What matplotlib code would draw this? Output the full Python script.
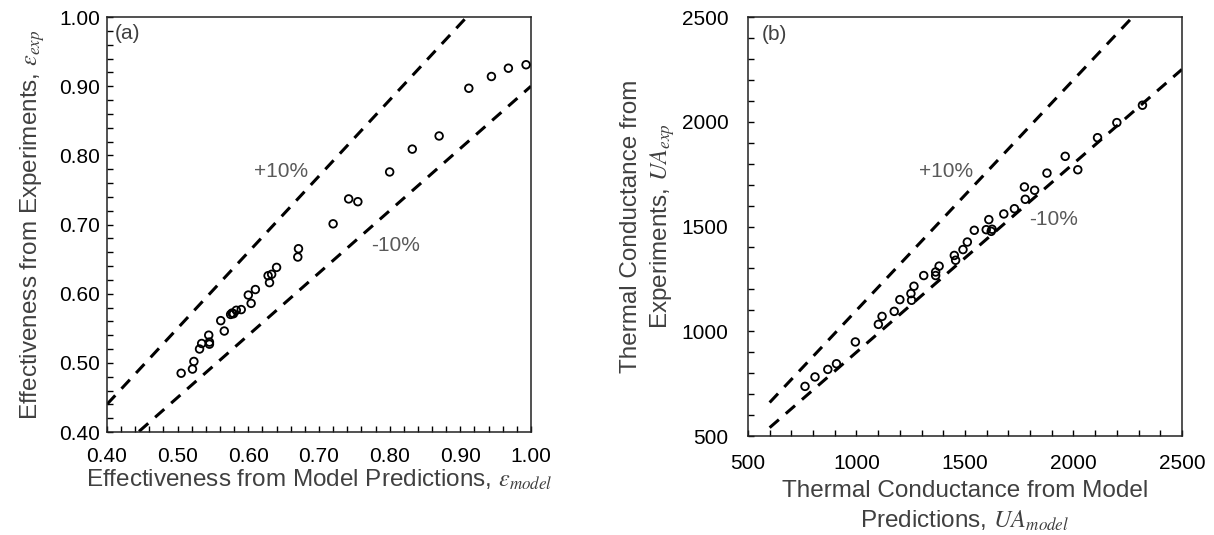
"Model vs experiment parity plots: effectiveness (a) and thermal conductance (b)"

import matplotlib
matplotlib.use("Agg")
import matplotlib.pyplot as plt
import numpy as np
from matplotlib.ticker import MultipleLocator, FormatStrFormatter

plt.rcParams['font.family'] = ['Liberation Sans', 'DejaVu Sans']
plt.rcParams['mathtext.fontset'] = 'stix'

# (a) effectiveness
eff_model = [0.505, 0.521, 0.523, 0.531, 0.534, 0.545, 0.545, 0.544, 0.566, 0.561,
             0.575, 0.577, 0.579, 0.583, 0.590, 0.604, 0.600, 0.610, 0.630, 0.628,
             0.633, 0.640, 0.670, 0.671, 0.720, 0.742, 0.755, 0.800, 0.832, 0.870,
             0.912, 0.944, 0.968, 0.993]
eff_exp = [0.485, 0.491, 0.502, 0.520, 0.528, 0.527, 0.530, 0.540, 0.546, 0.561,
           0.570, 0.572, 0.571, 0.576, 0.577, 0.586, 0.598, 0.606, 0.616, 0.626,
           0.628, 0.638, 0.653, 0.665, 0.701, 0.737, 0.733, 0.776, 0.809, 0.828,
           0.897, 0.914, 0.926, 0.931]

# (b) thermal conductance
ua_model = [763, 809, 868, 908, 995, 1101, 1118, 1174, 1200, 1254, 1265, 1251,
            1310, 1365, 1365, 1381, 1451, 1457, 1491, 1511, 1543, 1598, 1610,
            1621, 1625, 1679, 1728, 1778, 1774, 1821, 1878, 1962, 2020, 2111,
            2200, 2318]
ua_exp = [737, 782, 818, 845, 949, 1033, 1071, 1095, 1151, 1148, 1215, 1180,
          1266, 1283, 1266, 1311, 1362, 1339, 1390, 1426, 1482, 1485, 1533,
          1477, 1487, 1560, 1585, 1630, 1689, 1673, 1755, 1835, 1771, 1924,
          1996, 2079]

band_a = [0.4, 1.0]
band_b = [600, 2500]

label_col = '#404040'
note_col = '#595959'


def style(ax, major, minor, fmt, xpad, ypad):
    ax.xaxis.set_major_locator(MultipleLocator(major))
    ax.yaxis.set_major_locator(MultipleLocator(major))
    ax.xaxis.set_minor_locator(MultipleLocator(minor))
    ax.yaxis.set_minor_locator(MultipleLocator(minor))
    ax.xaxis.set_major_formatter(FormatStrFormatter(fmt))
    ax.yaxis.set_major_formatter(FormatStrFormatter(fmt))
    ax.tick_params(which='both', direction='in', labelsize=15, colors='black',
                   width=1)
    ax.tick_params(axis='x', which='both', pad=xpad)
    ax.tick_params(axis='y', which='both', pad=ypad)
    ax.tick_params(which='major', length=4.5)
    ax.tick_params(which='minor', length=4)
    for s in ax.spines.values():
        s.set_linewidth(1.1)
        s.set_color('#222222')


fig = plt.figure(figsize=(12.14, 5.35), dpi=100)

# panel a
ax1 = fig.add_axes([0.0881, 0.1925, 0.3493, 0.7757])
x = np.array(band_a)
ax1.plot(x, 1.1 * x, ls=(0, (4, 3)), color='black', lw=2.2)
ax1.plot(x, 0.9 * x, ls=(0, (4, 3)), color='black', lw=2.2)
ax1.scatter(eff_model, eff_exp, s=30, facecolors='none', edgecolors='black',
            linewidths=1.3, zorder=3)
ax1.set_xlim(0.4, 1.0)
ax1.set_ylim(0.4, 1.0)
style(ax1, 0.1, 0.02, '%.2f', 11, 5)
ax1.set_xlabel(r'Effectiveness from Model Predictions, $\varepsilon_{model}$',
               fontsize=17.5, color=label_col, labelpad=1)
ax1.set_ylabel(r'Effectiveness from Experiments, $\varepsilon_{exp}$',
               fontsize=17.5, color=label_col, labelpad=9)
ax1.text(0.647, 0.776, '+10%', fontsize=15, color=note_col, ha='center', va='center')
ax1.text(0.808, 0.669, '-10%', fontsize=15, color=note_col, ha='center', va='center')
ax1.text(0.411, 0.976, '(a)', fontsize=15, color=label_col, ha='left', va='center')

# panel b
ax2 = fig.add_axes([0.6161, 0.185, 0.3575, 0.7832])
x = np.array(band_b)
ax2.plot(x, 1.1 * x, ls=(0, (4, 3)), color='black', lw=2.2)
ax2.plot(x, 0.9 * x, ls=(0, (4, 3)), color='black', lw=2.2)
ax2.scatter(ua_model, ua_exp, s=30, facecolors='none', edgecolors='black',
            linewidths=1.3, zorder=3)
ax2.set_xlim(500, 2500)
ax2.set_ylim(500, 2500)
style(ax2, 500, 100, '%d', 13, 14)
ax2.set_xlabel('Thermal Conductance from Model\nPredictions, $UA_{model}$',
               fontsize=17.5, color=label_col, labelpad=5, linespacing=1.35)
ax2.set_ylabel('Thermal Conductance from\nExperiments, $UA_{exp}$',
               fontsize=17.5, color=label_col, labelpad=3, linespacing=1.35)
ax2.text(1412, 1763, '+10%', fontsize=15, color=note_col, ha='center', va='center')
ax2.text(1908, 1534, '-10%', fontsize=15, color=note_col, ha='center', va='center')
ax2.text(564, 2415, '(b)', fontsize=15, color=label_col, ha='left', va='center')

fig.savefig('out.png', dpi=100)
